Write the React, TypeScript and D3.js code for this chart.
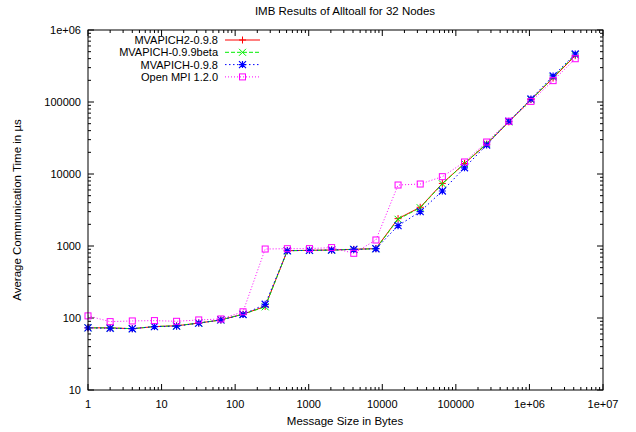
import React from "react";
import * as d3 from "d3";

const sizes = [1, 2, 4, 8, 16, 32, 64, 128, 256, 512, 1024, 2048, 4096, 8192, 16384, 32768, 65536, 131072, 262144, 524288, 1048576, 2097152, 4194304];
const mvapich2_098 = [73, 73, 71, 76, 78, 85, 94, 113, 145, 860, 870, 880, 900, 920, 2400, 3450, 7400, 14000, 26000, 53000, 108000, 215000, 440000];
const mvapich_099beta = [73, 73, 71, 76, 78, 85, 94, 113, 143, 860, 870, 875, 900, 915, 2350, 3400, 7300, 14000, 26500, 53000, 107000, 220000, 450000];
const mvapich_098 = [73, 72, 71, 76, 77, 85, 94, 112, 155, 860, 870, 880, 895, 917, 1914, 3000, 5810, 12200, 25300, 54000, 110000, 230000, 464000];
const openmpi_120 = [107, 89, 91, 92, 90, 94, 97, 122, 908, 917, 920, 950, 792, 1212, 7030, 7260, 9180, 14680, 27800, 54000, 102000, 198000, 399000];

const seriesNames = ["MVAPICH2-0.9.8", "MVAPICH-0.9.9beta", "MVAPICH-0.9.8", "Open MPI 1.2.0"];
const xTickValues = [1, 10, 100, 1000, 10000, 100000, 1000000, 10000000];
const xTickLabels = ["1", "10", "100", "1000", "10000", "100000", "1e+06", "1e+07"];
const yTickValues = [10, 100, 1000, 10000, 100000, 1000000];
const yTickLabels = ["10", "100", "1000", "10000", "100000", "1e+06"];

const title = "IMB Results of Alltoall for 32 Nodes";
const xLabel = "Message Size in Bytes";
const yLabel = "Average Communication Time in µs";

const W = 636, H = 432;
const L = 88, R = 603, T = 30, B = 390;
const FONT = "'Liberation Sans', Arial, sans-serif";

const styles = [
  { color: "#ff0000", dash: "none", marker: "plus" },
  { color: "#00ee00", dash: "4,2", marker: "cross" },
  { color: "#0000ff", dash: "1.5,2.5", marker: "star" },
  { color: "#ff00ff", dash: "1,2", marker: "square" },
];

function Marker({ type, x, y, color }: { type: string; x: number; y: number; color: string }) {
  const s = 3.5;
  if (type === "plus")
    return <path d={`M${x - s},${y}H${x + s}M${x},${y - s}V${y + s}`} stroke={color} strokeWidth={1} fill="none" />;
  if (type === "cross")
    return <path d={`M${x - s},${y - s}L${x + s},${y + s}M${x - s},${y + s}L${x + s},${y - s}`} stroke={color} strokeWidth={1} fill="none" />;
  if (type === "star")
    return (
      <path
        d={`M${x - s},${y}H${x + s}M${x},${y - s}V${y + s}M${x - s},${y - s}L${x + s},${y + s}M${x - s},${y + s}L${x + s},${y - s}`}
        stroke={color}
        strokeWidth={1.2}
        fill="none"
      />
    );
  return <rect x={x - 3} y={y - 3} width={6} height={6} stroke={color} strokeWidth={1} fill="none" />;
}

export default function App() {
  const x = d3.scaleLog().domain([1, 1e7]).range([L, R]);
  const y = d3.scaleLog().domain([10, 1e6]).range([B, T]);
  const data = [mvapich2_098, mvapich_099beta, mvapich_098, openmpi_120];
  const line = d3
    .line<number>()
    .x((_, i) => x(sizes[i]))
    .y((d) => y(d));

  const xMinor: number[] = [];
  for (let e = 0; e < 7; e++) for (let m = 2; m <= 9; m++) xMinor.push(m * Math.pow(10, e));
  const yMinor: number[] = [];
  for (let e = 1; e < 6; e++) for (let m = 2; m <= 9; m++) yMinor.push(m * Math.pow(10, e));

  const major = 6, minor = 3;

  return (
    <svg width={W} height={H} style={{ position: "absolute", left: 0, top: 0, background: "#fff" }} fontFamily={FONT}>
      <rect x={0} y={0} width={W} height={H} fill="#fff" />
      <text x={345} y={15} fontSize={11.5} textAnchor="middle" fill="#000">{title}</text>
      {/* ticks */}
      <g stroke="#000" strokeWidth={1}>
        {xTickValues.map((v) => (
          <g key={"xm" + v}>
            <line x1={x(v)} x2={x(v)} y1={B} y2={B - major} />
            <line x1={x(v)} x2={x(v)} y1={T} y2={T + major} />
          </g>
        ))}
        {xMinor.map((v) => (
          <g key={"xn" + v}>
            <line x1={x(v)} x2={x(v)} y1={B} y2={B - minor} />
            <line x1={x(v)} x2={x(v)} y1={T} y2={T + minor} />
          </g>
        ))}
        {yTickValues.map((v) => (
          <g key={"ym" + v}>
            <line x1={L} x2={L + major} y1={y(v)} y2={y(v)} />
            <line x1={R} x2={R - major} y1={y(v)} y2={y(v)} />
          </g>
        ))}
        {yMinor.map((v) => (
          <g key={"yn" + v}>
            <line x1={L} x2={L + minor} y1={y(v)} y2={y(v)} />
            <line x1={R} x2={R - minor} y1={y(v)} y2={y(v)} />
          </g>
        ))}
      </g>
      {xTickValues.map((v, i) => (
        <text key={"xl" + v} x={x(v)} y={B + 18} fontSize={11} textAnchor="middle" fill="#000">{xTickLabels[i]}</text>
      ))}
      {yTickValues.map((v, i) => (
        <text key={"yl" + v} x={L - 7} y={y(v) + 4} fontSize={11} textAnchor="end" fill="#000">{yTickLabels[i]}</text>
      ))}
      <text x={345} y={425} fontSize={11.5} textAnchor="middle" fill="#000">{xLabel}</text>
      <text transform={`translate(21,${(T + B) / 2}) rotate(-90)`} fontSize={11.5} textAnchor="middle" fill="#000">{yLabel}</text>
      {/* series */}
      {data.map((s, si) => (
        <g key={"s" + si}>
          <path d={line(s) || ""} fill="none" stroke={styles[si].color} strokeWidth={1} strokeDasharray={styles[si].dash} />
          {s.map((v, i) => (
            <Marker key={i} type={styles[si].marker} x={x(sizes[i])} y={y(v)} color={styles[si].color} />
          ))}
        </g>
      ))}
      {/* legend */}
      {seriesNames.map((n, i) => {
        const ly = 40 + i * 12.3;
        return (
          <g key={"lg" + i}>
            <text x={218} y={ly + 4} fontSize={11} textAnchor="end" fill="#000">{n}</text>
            <line x1={225} x2={260} y1={ly} y2={ly} stroke={styles[i].color} strokeWidth={1} strokeDasharray={styles[i].dash} />
            <Marker type={styles[i].marker} x={242.5} y={ly} color={styles[i].color} />
          </g>
        );
      })}
      <rect x={L} y={T} width={R - L} height={B - T} fill="none" stroke="#000" strokeWidth={1} />
    </svg>
  );
}
